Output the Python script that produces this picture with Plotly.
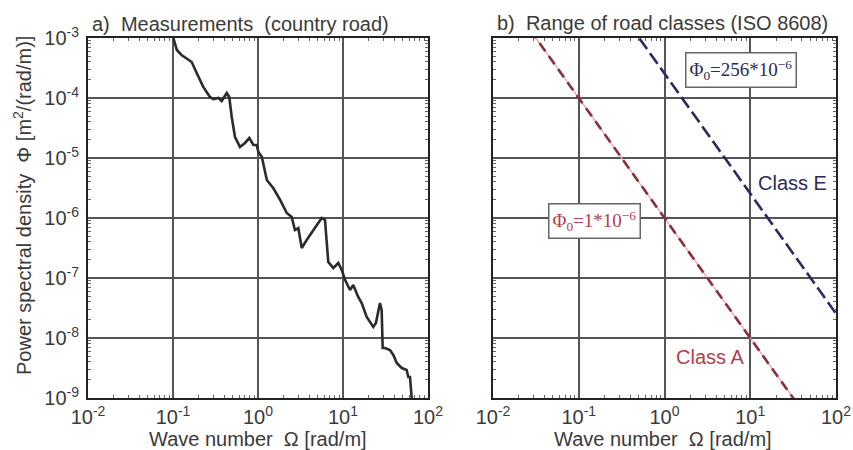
import plotly.graph_objects as go

# ---- data -------------------------------------------------------------
# a) measured PSD of a country road (read off the picture)
meas_omega = [0.101, 0.111, 0.126, 0.166, 0.190, 0.227, 0.272, 0.298, 0.341, 0.374,
              0.429, 0.459, 0.491, 0.536, 0.614, 0.703, 0.791, 0.881, 0.966, 1.01,
              1.11, 1.27, 1.51, 1.82, 2.18, 2.49, 2.72, 2.98, 3.27, 3.74,
              5.61, 6.14, 6.71, 7.69, 8.81, 9.66, 10.6, 12.1, 13.2, 15.1,
              16.6, 19.0, 22.7, 24.4, 27.2, 28.5, 29.3, 31.2, 35.7, 39.1,
              42.9, 49.1, 56.1, 58.6, 61.4, 64.3]
meas_phi = [1.00e-3, 6.31e-4, 5.21e-4, 3.98e-4, 2.61e-4, 1.53e-4, 1.04e-4, 9.62e-5, 1.00e-4, 8.91e-5,
            1.21e-4, 1.04e-4, 4.82e-5, 2.24e-5, 1.53e-5, 1.78e-5, 2.15e-5, 1.65e-5, 1.65e-5, 1.26e-5,
            1.04e-5, 4.30e-6, 3.16e-6, 2.00e-6, 1.21e-6, 1.04e-6, 6.31e-7, 6.81e-7, 3.16e-7, 4.30e-7,
            1.00e-6, 9.26e-7, 1.85e-7, 1.47e-7, 1.78e-7, 1.36e-7, 9.26e-8, 6.31e-8, 7.64e-8, 4.82e-8,
            3.83e-8, 2.24e-8, 1.53e-8, 1.78e-8, 3.83e-8, 2.93e-8, 6.81e-9, 6.81e-9, 6.31e-9, 5.21e-9,
            3.83e-9, 3.16e-9, 2.93e-9, 2.24e-9, 2.24e-9, 1.00e-9]

# b) ISO 8608 road classes: Phi = Phi0 * (Omega/Omega0)^-2, Omega0 = 1 rad/m
class_omega = [0.01, 100.0]
classA_phi0 = 1e-6
classE_phi0 = 256e-6
classA_phi = [classA_phi0 * w ** -2 for w in class_omega]
classE_phi = [classE_phi0 * w ** -2 for w in class_omega]

x_ticks = [1e-2, 1e-1, 1e0, 1e1, 1e2]
x_ticktext = ["10<sup>-2</sup>", "10<sup>-1</sup>", "10<sup>0</sup>", "10<sup>1</sup>", "10<sup>2</sup>"]
y_ticks = [1e-9, 1e-8, 1e-7, 1e-6, 1e-5, 1e-4, 1e-3]
y_ticktext = ["10<sup>-9</sup>", "10<sup>-8</sup>", "10<sup>-7</sup>", "10<sup>-6</sup>",
              "10<sup>-5</sup>", "10<sup>-4</sup>", "10<sup>-3</sup>"]

# ---- figure -----------------------------------------------------------
W, H = 853, 450
FONT = "Liberation Sans, Arial, sans-serif"
SERIF = "Liberation Serif, Times New Roman, serif"
TXT = "#3a3a3a"
RED = "#8a2e3c"
PINK = "#f0a0a8"
NAVY = "#2a2a5c"
FS = 20

fig = go.Figure()

fig.add_trace(go.Scatter(x=meas_omega, y=meas_phi, mode="lines",
                         line=dict(color="#2b2b2b", width=2.6),
                         xaxis="x", yaxis="y", showlegend=False, hoverinfo="skip"))

fig.add_trace(go.Scatter(x=class_omega, y=classA_phi, mode="lines",
                         line=dict(color=PINK, width=1.2),
                         xaxis="x2", yaxis="y2", showlegend=False, hoverinfo="skip"))
fig.add_trace(go.Scatter(x=class_omega, y=classA_phi, mode="lines",
                         line=dict(color=RED, width=2.6, dash="10px,6px"),
                         xaxis="x2", yaxis="y2", showlegend=False, hoverinfo="skip"))
fig.add_trace(go.Scatter(x=class_omega, y=classE_phi, mode="lines",
                         line=dict(color=NAVY, width=2.6, dash="13px,5px"),
                         xaxis="x2", yaxis="y2", showlegend=False, hoverinfo="skip"))

def px_x(p):
    return p / W

def px_y(p):
    return 1 - p / H

ydom = [px_y(398), px_y(38)]

# minor tick positions (2..9 within each decade) for the frame
x_minor = [m * 10.0 ** e for e in range(-2, 2) for m in range(2, 10)]
y_minor = [m * 10.0 ** e for e in range(-9, -3) for m in range(2, 10)]

common_x = dict(type="log", range=[-2, 2], tickmode="array", tickvals=x_ticks,
                ticktext=x_ticktext, showgrid=True, gridcolor="#555555", gridwidth=1.6,
                showline=True, linecolor="#222222", linewidth=2, mirror="allticks",
                ticks="inside", ticklen=0, tickcolor="#222222",
                minor=dict(ticks="inside", ticklen=3, tickcolor="#666666", tickmode="array",
                           tickvals=x_minor, showgrid=False),
                tickfont=dict(family=FONT, size=FS, color=TXT), zeroline=False,
                automargin=False, fixedrange=True)
common_y = dict(type="log", range=[-9, -3], tickmode="array", tickvals=y_ticks,
                ticktext=y_ticktext, showgrid=True, gridcolor="#555555", gridwidth=1.6,
                showline=True, linecolor="#222222", linewidth=2, mirror="allticks",
                ticks="inside", ticklen=0, tickcolor="#222222",
                minor=dict(ticks="inside", ticklen=3, tickcolor="#666666", tickmode="array",
                           tickvals=y_minor, showgrid=False),
                tickfont=dict(family=FONT, size=FS, color=TXT), zeroline=False,
                automargin=False, fixedrange=True)

fig.update_layout(
    width=W, height=H,
    margin=dict(l=0, r=0, t=0, b=0),
    paper_bgcolor="white", plot_bgcolor="white",
    xaxis=dict(common_x, domain=[px_x(88), px_x(428)], anchor="y"),
    yaxis=dict(common_y, domain=ydom, anchor="x", ticklabelstandoff=3),
    xaxis2=dict(common_x, domain=[px_x(493), px_x(836)], anchor="y2"),
    yaxis2=dict(common_y, domain=ydom, anchor="x2", showticklabels=False),
)

annots = [
    dict(text="a)  Measurements  (country road)", x=px_x(240), y=px_y(24)),
    dict(text="b)  Range of road classes (ISO 8608)", x=px_x(662), y=px_y(23)),
    dict(text="Wave number  Ω [rad/m]", x=px_x(258), y=px_y(439)),
    dict(text="Wave number  Ω [rad/m]", x=px_x(663), y=px_y(439)),
    dict(text="Power spectral density  Φ [m<sup>2</sup>/(rad/m)]", x=px_x(22), y=px_y(206),
         textangle=-90),
]
for a in annots:
    fig.add_annotation(xref="paper", yref="paper", showarrow=False,
                       xanchor="center", yanchor="middle",
                       font=dict(family=FONT, size=FS, color=TXT), **a)

fig.add_annotation(xref="x2", yref="y2", x=0.892, y=-3.533, showarrow=False,
                   text="Φ<sub>0</sub>=256*10<sup>−6</sup>",
                   font=dict(family=SERIF, size=19, color=NAVY),
                   bgcolor="white", bordercolor="#666666", borderwidth=1.5, borderpad=3)
fig.add_annotation(xref="x2", yref="y2", x=-0.822, y=-6.05, showarrow=False,
                   text="Φ<sub>0</sub>=1*10<sup>−6</sup>",
                   font=dict(family=SERIF, size=19, color="#b04050"),
                   bgcolor="white", bordercolor="#666666", borderwidth=1.5, borderpad=3)
fig.add_annotation(xref="x2", yref="y2", x=1.487, y=-5.417, showarrow=False,
                   text="Class E", font=dict(family=FONT, size=FS, color=NAVY),
                   bgcolor="white")
fig.add_annotation(xref="x2", yref="y2", x=0.531, y=-8.317, showarrow=False,
                   text="Class A", font=dict(family=FONT, size=FS, color="#b04050"),
                   bgcolor="white")

fig.write_html("out.html")
